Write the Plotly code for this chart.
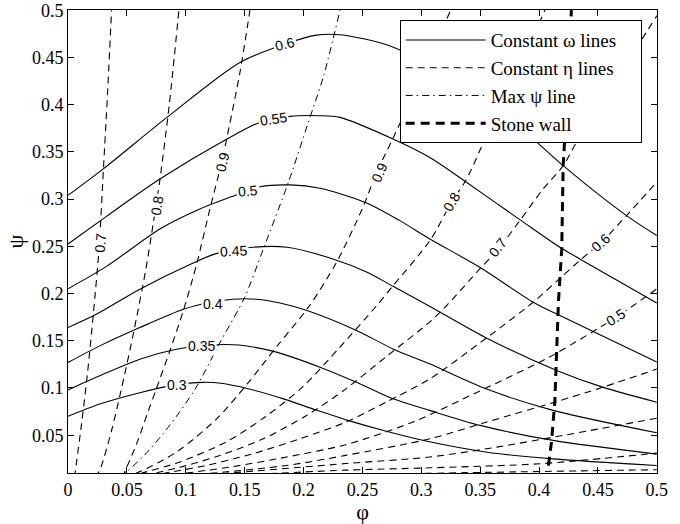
import plotly.graph_objects as go

# ---------------- data ----------------
X_TICKS = [0, 0.05, 0.1, 0.15, 0.2, 0.25, 0.3, 0.35, 0.4, 0.45, 0.5]
X_TICK_TEXT = ["0", "0.05", "0.1", "0.15", "0.2", "0.25", "0.3", "0.35", "0.4", "0.45", "0.5"]
Y_TICKS = [0.05, 0.1, 0.15, 0.2, 0.25, 0.3, 0.35, 0.4, 0.45, 0.5]
Y_TICK_TEXT = ["0.05", "0.1", "0.15", "0.2", "0.25", "0.3", "0.35", "0.4", "0.45", "0.5"]

# constant omega lines (phi, psi)
W30 = [(0, 0.070), (0.027, 0.083), (0.061, 0.095), (0.09, 0.103), (0.115, 0.106), (0.13, 0.105),
       (0.152, 0.0995), (0.183, 0.0885), (0.21, 0.077), (0.237, 0.066), (0.268, 0.055), (0.307, 0.043),
       (0.356, 0.032), (0.412, 0.025), (0.5, 0.018)]
W35 = [(0, 0.098), (0.027, 0.113), (0.061, 0.1305), (0.092, 0.141), (0.12, 0.1455), (0.145, 0.1455),
       (0.177, 0.138), (0.214, 0.122), (0.245, 0.106), (0.276, 0.0885), (0.307, 0.0763), (0.35, 0.0604),
       (0.412, 0.0445), (0.5, 0.030)]
W40 = [(0, 0.127), (0.027, 0.1446), (0.061, 0.164), (0.098, 0.1834), (0.12, 0.1905), (0.14, 0.194),
       (0.16, 0.194), (0.18, 0.190), (0.203, 0.182), (0.245, 0.1609), (0.276, 0.1414), (0.307, 0.1256),
       (0.355, 0.0991), (0.412, 0.0763), (0.5, 0.0526)]
W45 = [(0, 0.164), (0.024, 0.178), (0.061, 0.2046), (0.104, 0.231), (0.125, 0.242), (0.157, 0.249),
       (0.186, 0.249), (0.225, 0.2366), (0.254, 0.2226), (0.276, 0.2077), (0.307, 0.1866), (0.354, 0.1538),
       (0.415, 0.1186), (0.454, 0.1009), (0.5, 0.085)]
W50 = [(0, 0.205), (0.033, 0.229), (0.078, 0.2684), (0.112, 0.2895), (0.14, 0.303), (0.163, 0.313),
       (0.1885, 0.315), (0.214, 0.3115), (0.2536, 0.2959), (0.2818, 0.2772), (0.3073, 0.2578),
       (0.3497, 0.2278), (0.395, 0.1908), (0.4177, 0.1767), (0.5, 0.1274)]
W55 = [(0, 0.2525), (0.033, 0.282), (0.078, 0.3212), (0.135, 0.3636), (0.163, 0.3812), (0.1885, 0.3876),
       (0.214, 0.3883), (0.231, 0.3865), (0.276, 0.3636), (0.3073, 0.344), (0.3384, 0.3178),
       (0.3837, 0.2783), (0.4177, 0.249), (0.4346, 0.2366), (0.5, 0.19)]
W60 = [(0, 0.304), (0.03, 0.332), (0.084, 0.3865), (0.146, 0.4447), (0.184, 0.464), (0.211, 0.4736),
       (0.231, 0.474), (0.273, 0.4623), (0.328, 0.427), (0.3837, 0.376), (0.4205, 0.3354),
       (0.4743, 0.2825), (0.5, 0.2614)]
OMEGA_CURVES = [W30, W35, W40, W45, W50, W55, W60]
OMEGA_LABELS = ["0.3", "0.35", "0.4", "0.45", "0.5", "0.55", "0.6"]
OMEGA_LABEL_X = [0.0923, 0.1135, 0.1234, 0.1403, 0.153, 0.1743, 0.1842]
OMEGA_LABEL_Y = [0.1035, 0.1440, 0.1894, 0.2455, 0.3085, 0.3847, 0.4640]

# constant eta lines (phi, psi)
E70L = [(0.0055, 0.005), (0.0115, 0.062), (0.0165, 0.115), (0.0215, 0.178), (0.0265, 0.25),
        (0.030, 0.33), (0.0335, 0.41), (0.037, 0.5)]
E80L = [(0.0235, 0.005), (0.028, 0.0163), (0.037, 0.055), (0.045, 0.097), (0.0554, 0.157), (0.066, 0.225),
        (0.0725, 0.275), (0.078, 0.32), (0.086, 0.40), (0.0942, 0.5)]
E90L = [(0.046, 0.005), (0.058, 0.04), (0.068, 0.075), (0.0753, 0.100), (0.0866, 0.1397), (0.0979, 0.1816),
        (0.1092, 0.231), (0.1205, 0.2895), (0.1305, 0.339), (0.1347, 0.3636), (0.146, 0.434), (0.1545, 0.5)]
E90R = [(0.048, 0.005), (0.062, 0.012), (0.092, 0.032), (0.126, 0.067), (0.152, 0.104), (0.178, 0.145),
        (0.205, 0.187), (0.228, 0.233), (0.25, 0.29), (0.262, 0.328), (0.277, 0.367), (0.30, 0.43),
        (0.325, 0.5)]
E80R = [(0.052, 0.005), (0.0611, 0.0092), (0.095, 0.0216), (0.134, 0.0427), (0.167, 0.069), (0.200, 0.102),
        (0.230, 0.142), (0.262, 0.187), (0.2762, 0.2085), (0.3073, 0.256), (0.3257, 0.2966),
        (0.3384, 0.321), (0.3554, 0.367), (0.38, 0.43), (0.405, 0.5)]
E70R = [(0.055, 0.005), (0.095, 0.016), (0.129, 0.0286), (0.1658, 0.0462), (0.2026, 0.0709), (0.236, 0.0991),
        (0.27, 0.133), (0.3073, 0.170), (0.3215, 0.1873), (0.3497, 0.226), (0.3667, 0.249), (0.3837, 0.2772),
        (0.4035, 0.3107), (0.4205, 0.3354), (0.4318, 0.36), (0.4459, 0.3865), (0.47, 0.435), (0.5, 0.494)]
E60 = [(0.06, 0.005), (0.1177, 0.0181), (0.157, 0.0304), (0.197, 0.0462), (0.236, 0.0639), (0.27, 0.085),
       (0.3073, 0.1097), (0.35, 0.148), (0.395, 0.1908), (0.4177, 0.216), (0.4346, 0.235), (0.4544, 0.256),
       (0.4743, 0.2825), (0.5, 0.318)]
E50 = [(0.07, 0.005), (0.1375, 0.0163), (0.1857, 0.0269), (0.236, 0.040), (0.293, 0.064), (0.35, 0.097),
       (0.40, 0.127), (0.415, 0.137), (0.4657, 0.175), (0.5, 0.205)]
E40 = [(0.08, 0.005), (0.1857, 0.018), (0.236, 0.0287), (0.3073, 0.0462), (0.3554, 0.0639), (0.4134, 0.085),
       (0.4544, 0.1009), (0.5, 0.12)]
E30 = [(0.09, 0.005), (0.236, 0.020), (0.3073, 0.0269), (0.364, 0.0374), (0.4205, 0.0498), (0.5, 0.068)]
E20 = [(0.1, 0.005), (0.236, 0.013), (0.3073, 0.0155), (0.4007, 0.0198), (0.5, 0.031)]
E10 = [(0.12, 0.005), (0.3, 0.0095), (0.5, 0.0135)]
ETA_CURVES = [E70L, E80L, E90L, E90R, E80R, E70R, E60, E50, E40, E30, E20, E10]
ETA_LABELS = ["0.7", "0.8", "0.9", "0.9", "0.8", "0.7", "0.6", "0.5"]
ETA_LABEL_X = [0.0272, 0.0753, 0.1313, 0.2645, 0.3257, 0.3653, 0.4530, 0.4657]
ETA_LABEL_Y = [0.2540, 0.2930, 0.3390, 0.3290, 0.2969, 0.2490, 0.2543, 0.1750]
ETA_LABEL_ANGLE = [-85, -81, -76, -66, -60, -51, -42, -33]

# max psi line
MAXPSI = [(0.044, 0.006), (0.05, 0.0115), (0.065, 0.029), (0.081, 0.052), (0.095, 0.075), (0.109, 0.101),
          (0.129, 0.148), (0.150, 0.196), (0.1658, 0.247), (0.1875, 0.319), (0.204, 0.381), (0.217, 0.43),
          (0.231, 0.5)]

# stone wall
STONEWALL = [(0.408, 0.0178), (0.4106, 0.043), (0.4134, 0.085), (0.4151, 0.138), (0.4165, 0.191),
             (0.4193, 0.247), (0.4205, 0.335), (0.4225, 0.378), (0.4275, 0.5)]

LEGEND_NAMES = ["Constant \u03c9 lines", "Constant \u03b7 lines", "Max \u03c8 line", "Stone wall"]

# ---------------- figure ----------------
fig = go.Figure()
BLACK = "#000000"
PAD = "\u00a0" * 4  # right padding inside the legend box


def xs(c):
    return [p[0] for p in c]


def ys(c):
    return [p[1] for p in c]


for i, c in enumerate(OMEGA_CURVES):
    fig.add_trace(go.Scatter(x=xs(c), y=ys(c), mode="lines", name=LEGEND_NAMES[0] + PAD,
                             showlegend=(i == 0),
                             line=dict(color=BLACK, width=1.1, shape="spline", smoothing=0.8)))
for i, c in enumerate(ETA_CURVES):
    fig.add_trace(go.Scatter(x=xs(c), y=ys(c), mode="lines", name=LEGEND_NAMES[1] + PAD,
                             showlegend=(i == 0),
                             line=dict(color=BLACK, width=1.1, dash="7px,5px", shape="spline", smoothing=0.8)))
fig.add_trace(go.Scatter(x=xs(MAXPSI), y=ys(MAXPSI), mode="lines", name=LEGEND_NAMES[2] + PAD,
                         line=dict(color=BLACK, width=1.0, dash="7px,4px,1.5px,4px", shape="spline", smoothing=0.8)))
fig.add_trace(go.Scatter(x=xs(STONEWALL), y=ys(STONEWALL), mode="lines", name=LEGEND_NAMES[3] + PAD,
                         line=dict(color=BLACK, width=3, dash="9px,6px")))

annotations = []
for t, x, y in zip(OMEGA_LABELS, OMEGA_LABEL_X, OMEGA_LABEL_Y):
    ang = {"0.6": -14, "0.55": -8, "0.5": -5, "0.45": -3}.get(t, 0)
    annotations.append(dict(x=x, y=y, xref="x", yref="y", text=t, showarrow=False, textangle=ang,
                            bgcolor="white", borderpad=1,
                            font=dict(family="Liberation Sans", size=14, color=BLACK)))
for t, x, y, a in zip(ETA_LABELS, ETA_LABEL_X, ETA_LABEL_Y, ETA_LABEL_ANGLE):
    annotations.append(dict(x=x, y=y, xref="x", yref="y", text=t, showarrow=False, textangle=a,
                            bgcolor="white", borderpad=1,
                            font=dict(family="Liberation Sans", size=14, color=BLACK)))

axis_common = dict(showline=True, linecolor=BLACK, linewidth=1, mirror="ticks", ticks="inside",
                   ticklen=6, tickwidth=1, tickcolor=BLACK, showgrid=False, zeroline=False,
                   automargin=False, ticklabeloverflow="allow",
                   tickfont=dict(family="Liberation Serif", size=18, color=BLACK))

fig.update_layout(
    width=680, height=524,
    margin=dict(l=68, r=23, t=10, b=51, pad=0),
    paper_bgcolor="white", plot_bgcolor="white",
    template="none",
    showlegend=True,
    legend=dict(x=0.974, y=0.978, xanchor="right", yanchor="top", bgcolor="white",
                bordercolor=BLACK, borderwidth=1, tracegroupgap=0, itemwidth=80,
                font=dict(family="Liberation Serif", size=19, color=BLACK)),
    annotations=annotations,
    xaxis=dict(range=[0, 0.5002], tickvals=X_TICKS, ticktext=X_TICK_TEXT,
               title=dict(text="\u03c6", standoff=0, font=dict(family="Liberation Serif", size=22, color=BLACK)),
               **axis_common),
    yaxis=dict(range=[0.01, 0.5002], tickvals=Y_TICKS, ticktext=Y_TICK_TEXT,
               title=dict(text="\u03c8", standoff=2, font=dict(family="Liberation Serif", size=22, color=BLACK)),
               **axis_common),
)

fig.write_html("out.html")
